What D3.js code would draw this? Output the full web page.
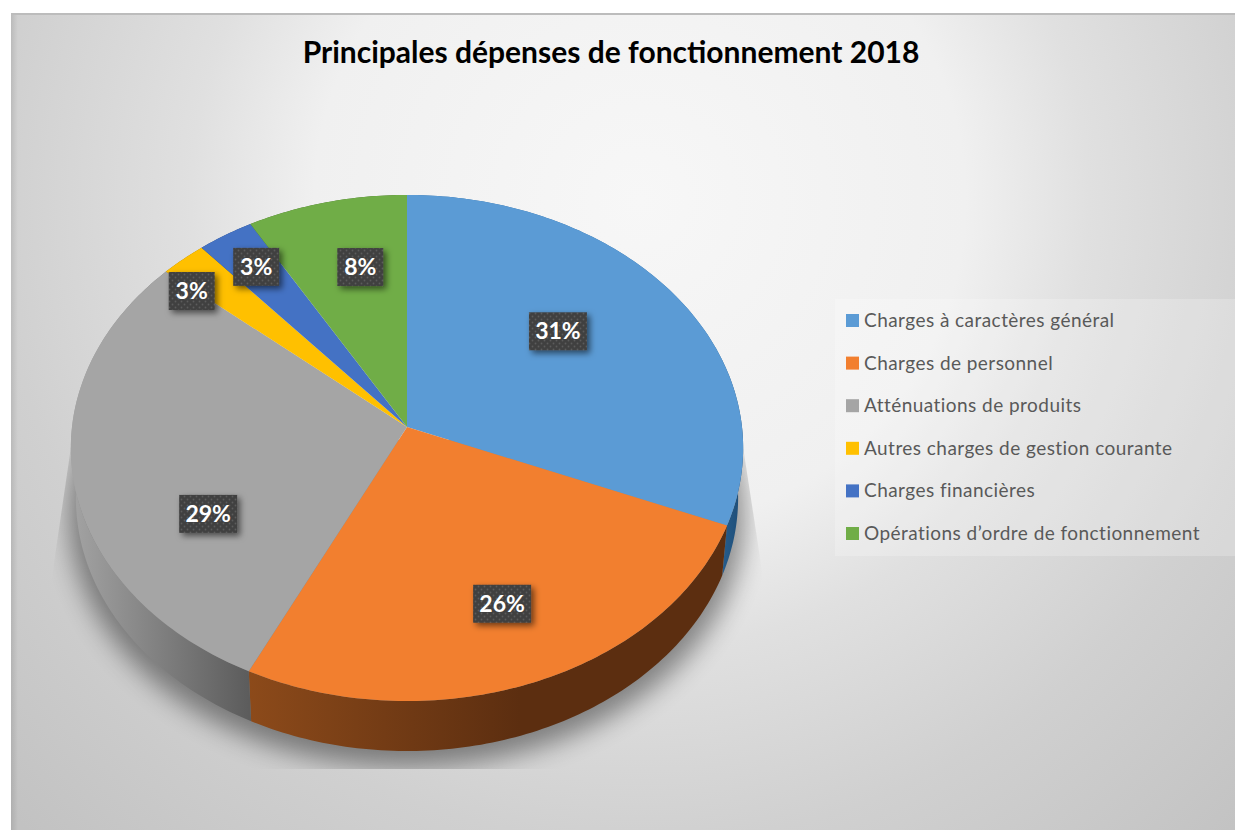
<!DOCTYPE html>
<html lang="fr"><head><meta charset="utf-8">
<script src="https://cdnjs.cloudflare.com/ajax/libs/d3/7.8.5/d3.min.js"></script>
<style>html,body{margin:0;padding:0;background:#fff}svg{display:block}text{font-family:Lato,"Open Sans",sans-serif}</style>
</head><body><svg id="c" width="1235" height="830"></svg>
<script>
const title = "Principales dépenses de fonctionnement 2018";
const categories = ["Charges à caractères général","Charges de personnel","Atténuations de produits","Autres charges de gestion courante","Charges financières","Opérations d’ordre de fonctionnement"];
const values = [31.2,26.0,29.1,2.4,2.95,8.35];
const valueLabels = ["31%","26%","29%","3%","3%","8%"];
const colors = ["#5b9bd5","#f27f2f","#a5a5a5","#ffc000","#4472c4","#70ad47"];

// layout
const cx=407, cy=427, R=335, K=251.3, P=0.083, DEPTH=50, BASE=0.985;
const labelNudge=[[-11.5,-14],[20,29],[0,56],[-78,-33],[-39,-42],[3,-21]];
const wallStops=[["#2f6ea6","#1d4a72"],["#8c4a1a","#5c2e10"],["#a3a3a3","#5c5c5c"],["#997300","#997300"],["#294579","#294579"],["#446a2a","#446a2a"]];
const wallSpan=[[700,745],[249,520],[72,249],[72,249],[72,249],[72,249]];

const svg=d3.select("#c"), defs=svg.append("defs");
const proj=(a,r=1,base=false)=>{const u=r*Math.sin(a),v=-r*Math.cos(a),s=1/(1-P*v),f=base?BASE:1;
  return [cx+R*f*u*s, cy+K*v*s+(base?DEPTH:0)];};
const line=d3.line();
const arcPts=(a0,a1,base)=>{const n=Math.max(2,Math.ceil((a1-a0)*60));return d3.range(n+1).map(i=>proj(a0+(a1-a0)*i/n,1,base));};
const arcs=d3.pie().sort(null).value(d=>d)(values);

// background
const bg=defs.append("radialGradient").attr("id","bg").attr("gradientUnits","userSpaceOnUse")
 .attr("cx",640).attr("cy",200).attr("r",880);
[[0,"#f7f7f7"],[.37,"#f0f0f0"],[.51,"#e0e0e0"],[.73,"#d0d0d0"],[1,"#c2c2c2"]].forEach(s=>bg.append("stop").attr("offset",s[0]).attr("stop-color",s[1]));
svg.append("rect").attr("x",11).attr("y",13).attr("width",1224).attr("height",817).attr("fill","url(#bg)");
const edge=defs.append("linearGradient").attr("id","edge");
edge.append("stop").attr("offset",0).attr("stop-color","#000").attr("stop-opacity",.1);
edge.append("stop").attr("offset",1).attr("stop-color","#000").attr("stop-opacity",0);
svg.append("rect").attr("x",11).attr("y",13).attr("width",7).attr("height",817).attr("fill","url(#edge)");
svg.append("rect").attr("x",11).attr("y",13).attr("width",1224).attr("height",2).attr("fill","#bcbcbc");

// shadow
const blur=defs.append("filter").attr("id","blur").attr("filterUnits","userSpaceOnUse")
 .attr("x",0).attr("y",300).attr("width",900).attr("height",530);
blur.append("feGaussianBlur").attr("stdDeviation",13);
defs.append("clipPath").attr("id","shClip").append("path")
 .attr("d",line([[72,440],[50,590],[50,769],[765,769],[765,590],[742,440]])+"Z");
const allBase=arcPts(0,2*Math.PI,true);
svg.append("g").attr("clip-path","url(#shClip)").append("path")
 .attr("d",line(allBase.map(p=>[p[0]+(p[0]-cx)*.02,p[1]+16]))+"Z")
 .attr("fill","#000").attr("opacity",.42).attr("filter","url(#blur)");

// walls
arcs.forEach((d,i)=>{
  const g=defs.append("linearGradient").attr("id","w"+i).attr("gradientUnits","userSpaceOnUse")
    .attr("x1",wallSpan[i][0]).attr("x2",wallSpan[i][1]).attr("y1",0).attr("y2",0);
  g.append("stop").attr("offset",0).attr("stop-color",wallStops[i][0]);
  g.append("stop").attr("offset",1).attr("stop-color",wallStops[i][1]);
  const top=arcPts(d.startAngle,d.endAngle,false), bot=arcPts(d.startAngle,d.endAngle,true).reverse();
  svg.append("path").attr("d",line(top.concat(bot))+"Z").attr("fill",`url(#w${i})`);
});

// top face
svg.append("g").selectAll("path").data(arcs).join("path")
 .attr("d",d=>line([[cx,cy]].concat(arcPts(d.startAngle,d.endAngle,false)))+"Z")
 .attr("fill",(d,i)=>colors[i]);

// labels
const pat=defs.append("pattern").attr("id","dots").attr("patternUnits","userSpaceOnUse").attr("width",6).attr("height",6);
pat.append("rect").attr("width",6).attr("height",6).attr("fill","#404040");
pat.append("circle").attr("cx",1.5).attr("cy",1.5).attr("r",.9).attr("fill","#5c5c5c");
pat.append("circle").attr("cx",4.5).attr("cy",4.5).attr("r",.9).attr("fill","#5c5c5c");
const ds=defs.append("filter").attr("id","ds").attr("x","-30%").attr("y","-30%").attr("width","170%").attr("height","170%");
ds.append("feDropShadow").attr("dx",3).attr("dy",3).attr("stdDeviation",3).attr("flood-color","#000").attr("flood-opacity",.55);
arcs.forEach((d,i)=>{
  const p=proj((d.startAngle+d.endAngle)/2,.6), x=p[0]+labelNudge[i][0], y=p[1]+labelNudge[i][1];
  const w=valueLabels[i].length>2?58:46, h=38;
  svg.append("rect").attr("x",x-w/2).attr("y",y-h/2).attr("width",w).attr("height",h).attr("fill","url(#dots)").attr("filter","url(#ds)");
  svg.append("text").attr("x",x).attr("y",y+8).attr("text-anchor","middle").attr("fill","#fff")
    .attr("font-weight",700).attr("font-size",23).text(valueLabels[i]);
});

// legend
svg.append("rect").attr("x",835).attr("y",299).attr("width",400).attr("height",257).attr("fill","#fff").attr("opacity",.22);
const rowY=d3.scalePoint().domain(d3.range(categories.length)).range([320,533]);
const lg=svg.append("g").selectAll("g").data(categories).join("g").attr("transform",(d,i)=>`translate(846,${rowY(i)})`);
lg.append("rect").attr("x",0).attr("y",-6).attr("width",13).attr("height",13).attr("fill",(d,i)=>colors[i]);
lg.append("text").attr("x",18).attr("y",7).attr("font-size",19).attr("letter-spacing",.45).attr("fill","#595959").text(d=>d);

// title
svg.append("text").attr("x",611).attr("y",63).attr("text-anchor","middle").attr("font-weight",700)
 .attr("font-size",30).attr("fill","#000").text(title);
</script></body></html>
